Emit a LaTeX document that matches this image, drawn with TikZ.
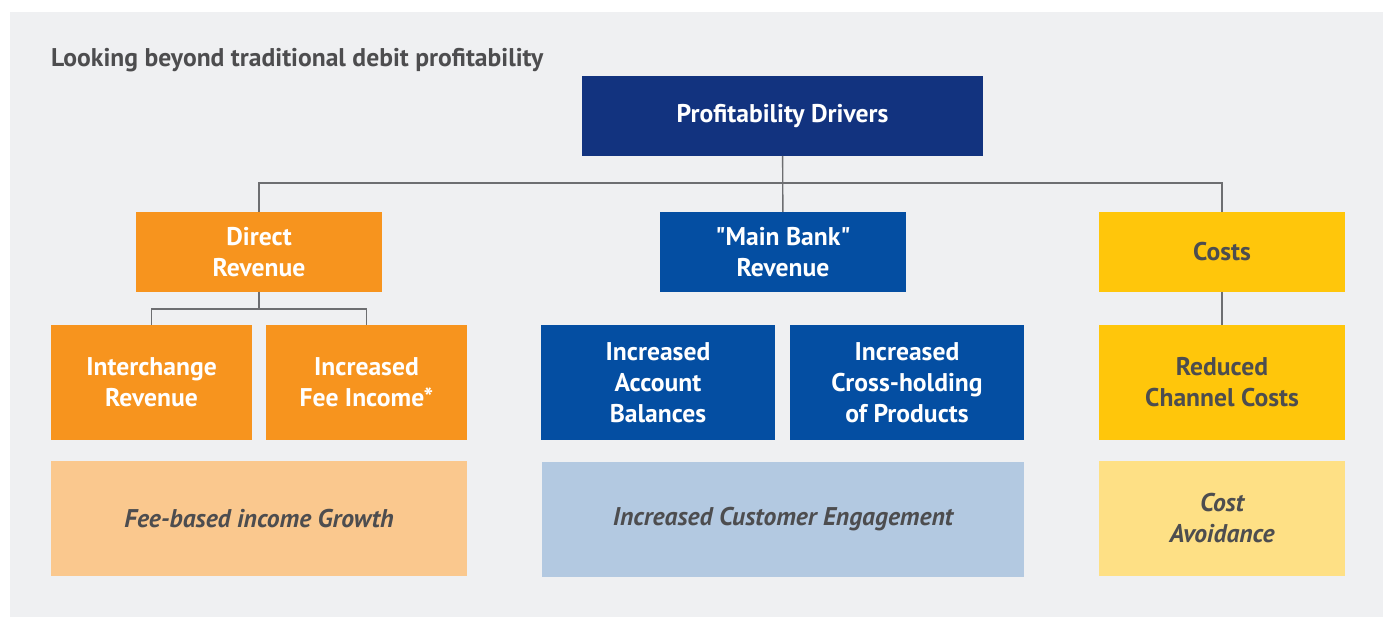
\documentclass[tikz,border=0pt]{standalone}
\usepackage{fontspec}
\setmainfont{PT Sans}
\usepackage{xcolor}
\usetikzlibrary{positioning}

\definecolor{panelgray}{HTML}{EFF0F2}
\definecolor{navyblue}{HTML}{12337F}
\definecolor{bankblue}{HTML}{044EA2}
\definecolor{deeporange}{HTML}{F7941E}
\definecolor{lightorange}{HTML}{FAC88E}
\definecolor{deepyellow}{HTML}{FFC60B}
\definecolor{lightyellow}{HTML}{FEE085}
\definecolor{lightblue}{HTML}{B3C9E1}
\definecolor{textgray}{HTML}{4D4D4F}
\definecolor{linegray}{HTML}{6D6E71}

\begin{document}
\begin{tikzpicture}[x=1pt,y=-1pt,
		box/.style={rectangle,inner sep=0pt,outer sep=0pt,align=center,
			font=\fontsize{25.6}{31}\selectfont\bfseries},
		headbox/.style={box,minimum height=80pt},
		leafbox/.style={box,minimum height=115pt},
		notebox/.style={box,minimum height=115pt,text=textgray,
			font=\fontsize{25.6}{31}\selectfont\bfseries\itshape},
		link/.style={draw=linegray,line width=1.4pt}]
			\useasboundingbox (0,0) rectangle (1389,617);
			\fill[panelgray] (10,12) rectangle (1383,617);
			\node[anchor=base west,inner sep=0pt,text=textgray,font=\fontsize{25.6}{31}\selectfont\bfseries] (title) at (51,67) {Looking beyond traditional debit profitability};

			\node[headbox,fill=navyblue,text=white,minimum width=401pt] (prof) at (782.5,116) {Profitability Drivers};
			\node[headbox,fill=deeporange,text=white,minimum width=246pt] (direct) at (259,252) {Direct\\Revenue};
			\node[headbox,fill=bankblue,text=white,minimum width=246pt] (mainbank) at (783,252) {\textquotedbl Main Bank\textquotedbl\\Revenue};
			\node[headbox,fill=deepyellow,text=textgray,minimum width=246pt] (costs) at (1222,252) {Costs};

			\node[leafbox,fill=deeporange,text=white,minimum width=201pt] (interchange) at (151.5,382.5) {Interchange\\Revenue};
			\node[leafbox,fill=deeporange,text=white,minimum width=201pt,right=14pt of interchange] (feeinc) {Increased\\Fee Income*};
			\node[leafbox,fill=bankblue,text=white,minimum width=234pt] (balances) at (658,382.5) {Increased\\Account\\Balances};
			\node[leafbox,fill=bankblue,text=white,minimum width=234pt,right=15pt of balances] (crosshold) {Increased\\Cross-holding\\of Products};
			\node[leafbox,fill=deepyellow,text=textgray,minimum width=246pt] (channel) at (1222,382.5) {Reduced\\Channel Costs};

			\node[notebox,fill=lightorange,minimum width=416pt] (feegrowth) at (259,518.5) {Fee-based income Growth};
			\node[notebox,fill=lightblue,minimum width=482pt] (engage) at (783,519) {Increased Customer Engagement};
			\node[notebox,fill=lightyellow,minimum width=246pt] (avoid) at (1222,518.5) {Cost\\Avoidance};

			\draw[link] (prof) -- (mainbank);
			\draw[link] (direct.north) -- ++(0,-29) -| (costs.north);
			\draw[link] (direct.south) -- ++(0,17) -| (interchange.north);
			\draw[link] (direct.south) -- ++(0,17) -| (feeinc.north);
			\draw[link] (costs) -- (channel);
		\end{tikzpicture}
\end{document}
